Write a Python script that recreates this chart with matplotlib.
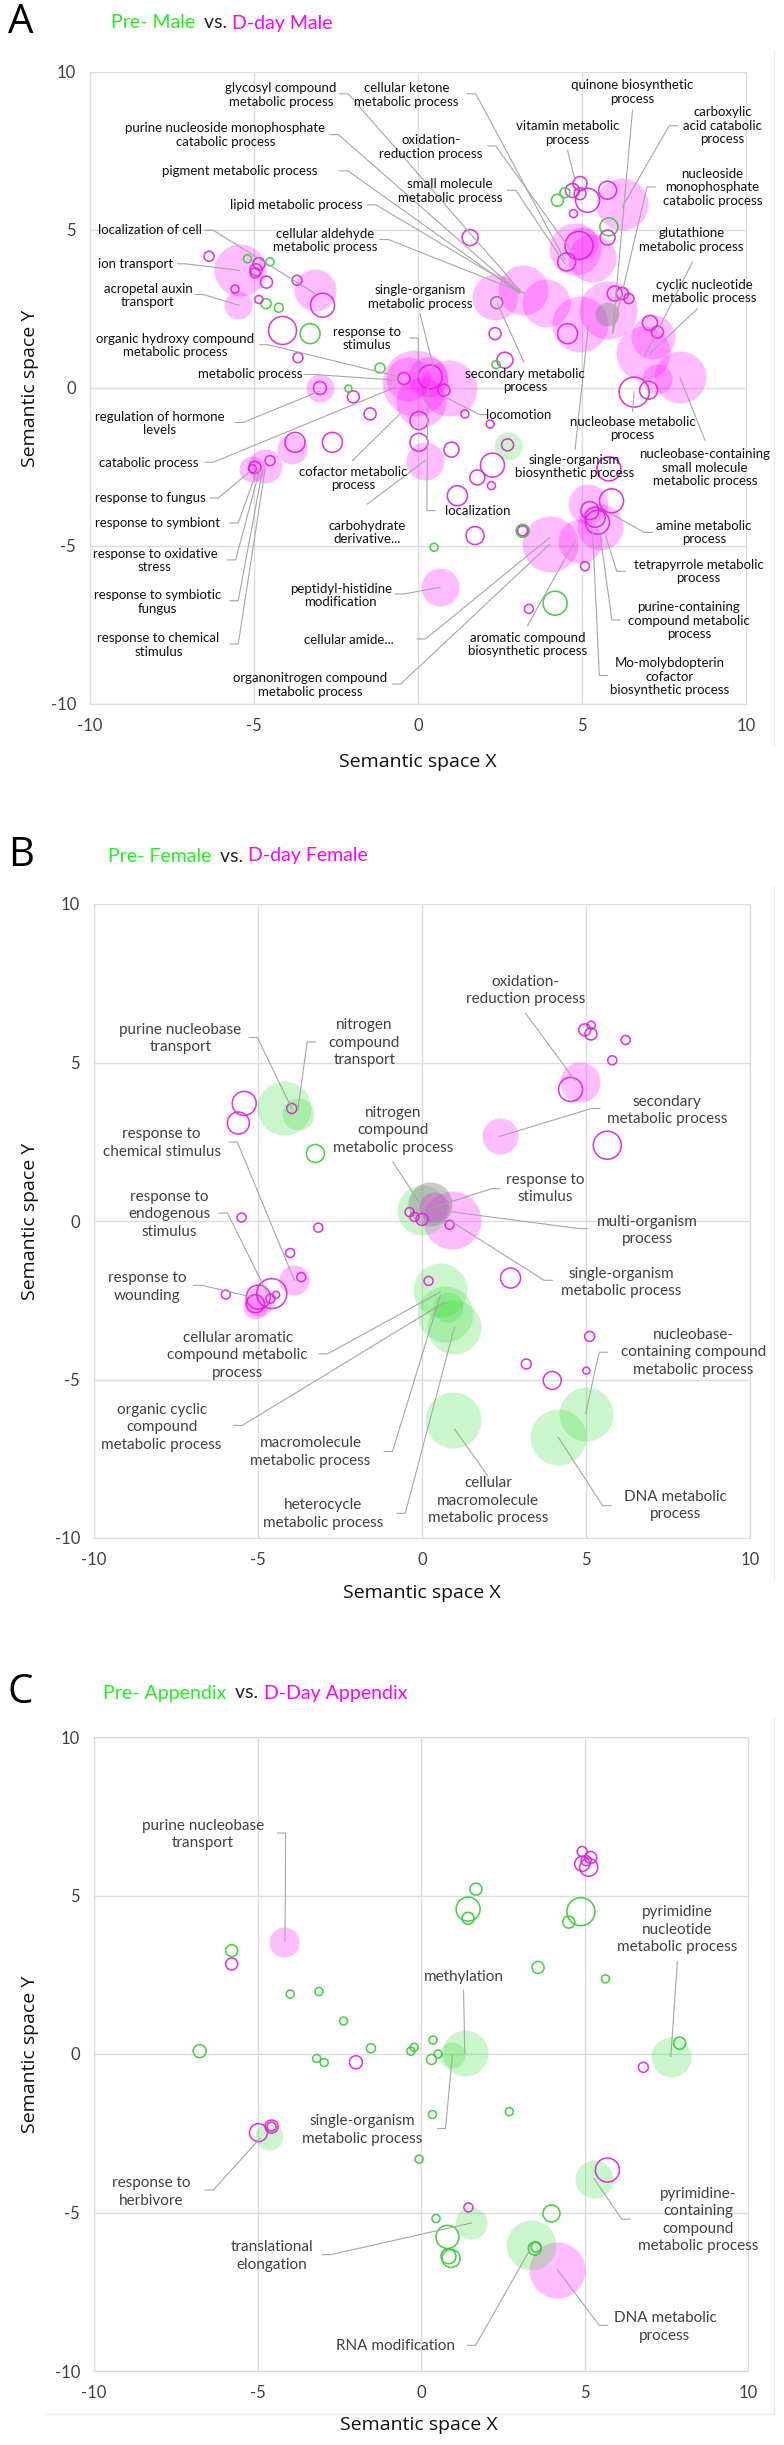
import matplotlib
matplotlib.use('Agg')
import matplotlib.pyplot as plt
from matplotlib.lines import Line2D

W, H, DPI = 784, 2445, 100

# ---------------- DATA ----------------
# bubble kinds: P pink filled, G green filled, X grey filled, p pink ring, g green ring, x grey ring
A_x = [-5.43, -5.5, -3.14, -3.0, -0.1, 0.95, -0.3, 0.3, 0.1, 0.21, 0.67, 2.73,
       4.8, 5.3, 5.0, 6.23, 2.35, 3.2, 3.9, 4.94, 5.78, 5.75, 6.86, 7.16, 7.99, 7.3,
       4.02, 5.17, 5.55, 4.94, -4.66, -5.05, -3.83,
       -6.37, -5.2, -4.51, -4.85, -4.94, -4.97, -4.62, -5.58, -4.85, -4.63, -4.24, -3.69, -2.91,
       1.59, 2.35, 2.65, 2.38, 2.4, -1.16, -3.66, -2.99, -2.12, -1.97, -0.43, 0.37, 0.79,
       4.25, 4.48, 4.71, 4.94, 4.94, 5.17, 5.78, 4.74, 5.82, 5.78, 4.91, 4.53, 6.0, 6.23, 6.43,
       4.56, 7.07, 7.3, 6.59, 7.03, -4.13, -3.29,
       -1.46, 0.03, 0.03, 1.43, 2.2, 1.02, -2.61, -3.75, -4.51, -4.97, -5.05, 2.73, 2.27, 1.81,
       2.24, 1.2, 5.82, 5.9, 5.24, 5.4, 5.47, 3.19, 3.19, 1.74, 0.49, 5.09, 3.38, 4.18]
A_y = [3.72, 2.62, 3.09, 0.0, 0.15, 0.0, 0.3, 0.35, -0.45, -2.3, -6.31, -1.82,
       4.4, 4.1, 4.6, 5.83, 2.88, 3.1, 2.7, 2.04, 2.46, 2.35, 1.1, 1.6, 0.35, 0.3,
       -4.94, -3.67, -4.41, -4.83, -2.46, -2.56, -1.93,
       4.17, 4.09, 3.99, 3.93, 3.74, 3.64, 3.35, 3.13, 2.8, 2.67, 2.54, 3.41, 2.62,
       4.76, 1.72, 0.88, 0.74, 2.7, 0.63, 0.96, 0.0, -0.02, -0.28, 0.3, 0.35, -0.07,
       5.94, 6.18, 6.25, 6.47, 6.15, 5.94, 6.26, 5.52, 5.1, 4.76, 4.51, 3.99, 2.99, 2.99, 2.83,
       1.72, 2.06, 1.77, -0.13, -0.07, 1.82, 1.72,
       -0.82, -1.03, -1.72, -0.82, -1.14, -1.95, -1.72, -1.72, -2.3, -2.51, -2.56, -1.8, -2.44, -2.83,
       -3.09, -3.41, -2.56, -3.57, -3.88, -4.09, -4.25, -4.52, -4.52, -4.67, -5.04, -5.64, -6.99, -6.81]
A_r = [26, 14, 21, 14, 33, 28, 22, 20, 25, 19, 19, 14,
       26, 24, 16, 26, 23, 25, 24, 28, 29, 12, 27, 22, 26, 15,
       28, 20, 23, 22, 17, 13, 15,
       5, 4, 4, 6, 6, 5, 6, 4, 4, 5, 4.5, 5, 12,
       8, 6, 8, 4, 6, 5, 5, 6.5, 3.5, 6, 6, 12, 6,
       6, 5, 7, 7, 6, 12, 9, 4, 9, 7.5, 14, 9, 7.5, 6, 5,
       10, 7.5, 6, 15, 9, 14, 10,
       6, 9, 9, 4, 4, 7.5, 10, 10, 5, 6, 4, 6, 12, 7.5,
       4, 10, 12, 12, 9, 10, 12, 6.5, 5, 9, 4, 4.5, 4.5, 12]
A_kind = (list('PPPPPPPPPPPG') + list('PPPPPPPPPXPPPP') + list('PPPPPPP') +
          list('pggppppppggpp') + list('pppgxgppgpppp') + list('ggppppppgpppppp') +
          list('ppppppg') + list('pppppppppppppp') + list('pppppppgppgppg'))

A_labels = ['glycosyl compound\nmetabolic process', 'cellular ketone\nmetabolic process',
            'quinone biosynthetic\nprocess', 'carboxylic\nacid catabolic\nprocess',
            'purine nucleoside monophosphate\ncatabolic process', 'vitamin metabolic\nprocess',
            'oxidation-\nreduction process', 'pigment metabolic process',
            'small molecule\nmetabolic process', 'nucleoside\nmonophosphate\ncatabolic process',
            'lipid metabolic process', 'localization of cell', 'cellular aldehyde\nmetabolic process',
            'glutathione\nmetabolic process', 'ion transport', 'acropetal auxin\ntransport',
            'single-organism\nmetabolic process', 'cyclic nucleotide\nmetabolic process',
            'organic hydroxy compound\nmetabolic process', 'response to\nstimulus',
            'metabolic process', 'secondary metabolic\nprocess', 'regulation of hormone\nlevels',
            'locomotion', 'nucleobase metabolic\nprocess',
            'nucleobase-containing\nsmall molecule\nmetabolic process', 'catabolic process',
            'cofactor metabolic\nprocess', 'response to fungus', 'localization',
            'single-organism\nbiosynthetic process', 'response to symbiont',
            'carbohydrate\nderivative...', 'amine metabolic\nprocess',
            'response to oxidative\nstress', 'tetrapyrrole metabolic\nprocess',
            'peptidyl-histidine\nmodification', 'response to symbiotic\nfungus',
            'purine-containing\ncompound metabolic\nprocess', 'response to chemical\nstimulus',
            'cellular amide...', 'aromatic compound\nbiosynthetic process',
            'Mo-molybdopterin\ncofactor\nbiosynthetic process',
            'organonitrogen compound\nmetabolic process']
# label centre, leader start, leader end (data units)
A_layout = [(-4.18, 9.27, -2.38, 9.31, 3.11, 3.09), (-0.35, 9.27, 1.51, 9.31, 4.48, 4.04),
            (6.54, 9.36, 6.54, 8.79, 5.93, 1.72), (9.28, 8.3, 7.91, 8.3, 6.23, 5.73),
            (-5.87, 8.0, -2.68, 8.02, 3.11, 2.99), (4.56, 8.07, 4.56, 7.52, 4.79, 6.57),
            (0.4, 7.63, 2.12, 7.66, 4.7, 4.3), (-5.43, 6.87, -2.38, 6.87, 3.11, 2.99),
            (0.98, 6.23, 2.73, 6.26, 4.48, 3.93), (8.98, 6.36, 7.23, 6.36, 5.93, 1.72),
            (-3.7, 5.8, -1.54, 5.8, 3.26, 2.99), (-8.17, 4.99, -6.49, 4.99, -3.14, 2.99),
            (-2.84, 4.67, -1.16, 4.7, 3.26, 2.99), (8.34, 4.69, 8.37, 3.99, 6.92, 1.03),
            (-8.6, 3.91, -7.33, 3.93, -5.43, 3.72), (-8.23, 2.93, -6.8, 2.96, -5.46, 2.62),
            (0.06, 2.88, 0.06, 2.35, 0.52, 0.45), (8.72, 3.06, 8.52, 2.51, 7.07, 1.09),
            (-7.41, 1.35, -4.82, 1.37, -0.55, 0.35), (-1.57, 1.56, -0.24, 1.58, 0.0, 0.35),
            (-5.12, 0.43, -3.45, 0.43, -0.55, 0.24), (3.26, 0.24, 3.23, 0.82, 2.42, 2.67),
            (-7.87, -1.12, -5.58, -1.09, -3.0, -0.1), (3.08, -0.84, 2.12, -0.84, 0.82, -0.28),
            (6.54, -1.28, 6.54, -0.75, 6.59, -0.13), (8.75, -2.53, 8.75, -1.65, 7.99, 0.32),
            (-8.22, -2.38, -6.49, -2.35, -0.7, 0.02), (-1.97, -2.86, -2.0, -2.3, -0.55, -0.82),
            (-8.17, -3.49, -6.34, -3.48, -4.97, -2.51), (1.81, -3.88, 0.52, -3.88, 0.3, 0.0),
            (4.76, -2.49, 4.79, -1.93, 5.2, 2.0), (-7.94, -4.27, -5.73, -4.27, -4.89, -2.56),
            (-1.54, -4.57, -1.54, -3.67, 0.21, -2.3), (8.72, -4.57, 7.15, -4.57, 5.9, -3.99),
            (-8.02, -5.46, -5.81, -5.44, -4.82, -2.56), (8.55, -5.8, 6.31, -5.8, 5.7, -4.62),
            (-2.35, -6.57, -0.7, -6.52, 0.67, -6.31), (-7.94, -6.78, -5.73, -6.73, -4.74, -2.6),
            (8.26, -7.36, 6.16, -7.34, 5.55, -4.62), (-7.91, -8.13, -5.73, -8.1, -4.66, -2.56),
            (-2.1, -7.96, -0.02, -7.94, 4.02, -4.73), (3.34, -8.12, 3.34, -7.52, 4.79, -4.83),
            (7.68, -9.14, 5.78, -9.1, 5.32, -4.51), (-3.29, -9.4, -0.78, -9.37, 4.02, -4.94)]

B_x = [-4.2, -3.79, 0.0, 0.23, 0.92, 0.38, 0.56, 0.69, 0.99, 0.8, 0.95, 4.99, 4.15,
       4.81, 2.37, -3.89, -4.96, -5.1,
       -5.42, -5.6, -3.97, 4.53, 4.96, 5.16, 5.15, 6.21, 5.8, 5.65, -3.25,
       -5.5, -3.16, -4.02, -3.68, -5.98, -4.58, -4.99, -5.08, -4.62, -4.45,
       -0.38, -0.23, 0.0, 0.84, 0.2, 2.7, 5.11, 3.18, 5.01, 3.97]
B_y = [3.55, 3.39, 0.34, 0.55, 0.02, 0.44, -2.19, -2.93, -3.35, -2.7, -6.29, -6.08, -6.8,
       4.39, 2.67, -1.87, -2.51, -2.7,
       3.71, 3.09, 3.55, 4.15, 6.03, 6.18, 5.9, 5.71, 5.07, 2.39, 2.13,
       0.11, -0.21, -1.01, -1.77, -2.32, -2.29, -2.4, -2.61, -2.45, -2.33,
       0.28, 0.13, 0.05, -0.12, -1.89, -1.8, -3.64, -4.51, -4.72, -5.03]
B_r = [27, 16, 25, 22, 29, 15, 27, 28, 27, 15, 28, 27, 28,
       20, 18, 15, 15, 12,
       12, 11, 5, 12, 6, 4, 6, 4.5, 4.5, 14, 9,
       4.5, 4.5, 4.5, 4.5, 4.5, 15, 12, 9, 4.5, 3.5,
       4.5, 4.5, 6, 4.5, 4.5, 10, 5, 5, 3.5, 9]
B_kind = list('GGGXPPGGGGGGG') + list('PPPPP') + list('ppppppppppg') + \
         list('pppppppppp') + list('pppppppppp')

B_labels = ['purine nucleobase\ntransport', 'nitrogen\ncompound\ntransport',
            'oxidation-\nreduction process', 'secondary\nmetabolic process',
            'response to\nchemical stimulus', 'nitrogen\ncompound\nmetabolic process',
            'response to\nstimulus', 'response to\nendogenous\nstimulus',
            'multi-organism\nprocess', 'single-organism\nmetabolic process',
            'response to\nwounding', 'cellular aromatic\ncompound metabolic\nprocess',
            'nucleobase-\ncontaining compound\nmetabolic process',
            'organic cyclic\ncompound\nmetabolic process', 'macromolecule\nmetabolic process',
            'cellular\nmacromolecule\nmetabolic process', 'heterocycle\nmetabolic process',
            'DNA metabolic\nprocess']
B_layout = [(-7.37, 5.76, -5.27, 5.79, -3.97, 3.55), (-1.76, 5.63, -3.25, 5.65, -3.79, 3.49),
            (3.16, 7.28, 3.16, 6.55, 4.66, 4.44), (7.48, 3.49, 5.42, 3.55, 2.37, 2.67),
            (-7.94, 2.46, -5.88, 2.49, -3.89, -1.87), (-0.89, 2.86, -0.89, 1.86, 0.08, 0.34),
            (3.77, 1.02, 2.37, 1.02, 0.38, 0.44), (-7.71, 0.21, -6.18, 0.25, -4.66, -2.4),
            (6.87, -0.29, 5.04, -0.24, 0.53, 0.34), (6.08, -1.94, 3.97, -1.87, 0.92, -0.03),
            (-8.37, -2.08, -6.95, -2.03, -5.19, -2.4), (-5.62, -4.24, -3.13, -4.19, 0.56, -2.24),
            (8.27, -4.14, 5.65, -4.14, 4.99, -6.08), (-7.94, -6.51, -5.73, -6.45, 0.69, -2.56),
            (-3.4, -7.29, -1.15, -7.27, 0.56, -2.35), (2.02, -8.82, 2.0, -8.03, 0.99, -6.56),
            (-3.02, -9.24, -0.76, -9.22, 0.99, -3.35), (7.74, -8.98, 5.76, -8.98, 4.15, -6.82)]

C_x = [-4.19, 4.17, 1.34, 0.96, 7.64, -4.66, 5.29, 1.54, 3.36,
       1.68, 1.44, 1.44, 4.89, 4.52, -5.79, 3.58, 5.64, -4.0, -3.12, -2.37, -6.77, -1.53,
       -0.31, -0.21, 0.37, 0.52, 0.32, -3.19, -2.96, 7.91, 0.35, 2.7, -0.06, 0.46, 0.81,
       0.84, 0.92, 3.99, 3.48, 3.52,
       -5.79, 4.93, 5.19, 4.93, 5.13, 5.05, -1.99, 6.8, -4.97, -4.57, -4.57, 5.7, 1.45]
C_y = [3.53, -6.8, 0.02, -0.03, -0.08, -2.58, -3.93, -5.33, -6.03,
       5.2, 4.57, 4.28, 4.49, 4.16, 3.26, 2.73, 2.37, 1.89, 1.97, 1.04, 0.09, 0.18,
       0.09, 0.21, 0.44, 0.0, -0.17, -0.14, -0.27, 0.34, -1.91, -1.82, -3.32, -5.19, -5.77,
       -6.38, -6.45, -5.03, -6.14, -6.09,
       2.84, 6.39, 6.2, 6.0, 5.89, 6.1, -0.26, -0.42, -2.48, -2.29, -2.29, -3.66, -4.84]
C_r = [15, 28, 23, 13, 20, 14, 19, 16, 25,
       6, 12, 6, 14, 6, 6, 6, 4, 4, 4, 4, 6.5, 4.5,
       4, 4, 4, 4, 5, 4, 4, 6, 4, 4, 4, 4, 11.5,
       7.5, 9, 8.5, 6.5, 5,
       6, 5, 6, 7.5, 9, 5, 6.5, 5, 9, 6.5, 4.5, 12, 4.5]
C_kind = list('PPGGGGGGG') + list('g' * 31) + list('p' * 13)

C_labels = ['purine nucleobase\ntransport', 'pyrimidine\nnucleotide\nmetabolic process',
            'methylation', 'single-organism\nmetabolic process', 'response to\nherbivore',
            'pyrimidine-\ncontaining\ncompound\nmetabolic process', 'translational\nelongation',
            'DNA metabolic\nprocess', 'RNA modification']
C_layout = [(-6.68, 6.92, -4.39, 6.97, -4.16, 3.55), (7.84, 3.92, 7.84, 2.92, 7.64, -0.08),
            (1.3, 2.44, 1.3, 2.02, 1.34, 0.02), (-1.79, -2.4, 0.5, -2.35, 0.96, -0.03),
            (-8.24, -4.35, -6.6, -4.29, -4.92, -2.66), (8.48, -5.24, 6.39, -5.21, 5.29, -3.93),
            (-4.57, -6.37, -3.01, -6.33, 1.54, -5.33), (7.46, -8.61, 5.7, -8.56, 4.17, -6.8),
            (-0.79, -9.22, 1.42, -9.19, 3.41, -6.03)]

TITLES = [('Pre- Male', 'D-day Male'), ('Pre- Female', 'D-day Female'),
          ('Pre- Appendix', 'D-Day Appendix')]
TICKS = [-10, -5, 0, 5, 10]

# ---------------- STYLE ----------------
MAG = '#ff00ff'
STYLE = {
    'P': dict(color=MAG, alpha=0.26, lw=0, fill=True),
    'G': dict(color='#33dd33', alpha=0.25, lw=0, fill=True),
    'X': dict(color='#888888', alpha=0.45, lw=0, fill=True),
    'p': dict(color='#e01ee0', alpha=0.9, lw=1.15, fill=False),
    'g': dict(color='#33cc33', alpha=0.9, lw=1.15, fill=False),
    'x': dict(color='#808080', alpha=0.9, lw=1.15, fill=False),
}

fig = plt.figure(figsize=(W / DPI, H / DPI), dpi=DPI)


def box(l, t, r, b):
    return [l / W, 1 - b / H, (r - l) / W, (b - t) / H]


def draw_panel(rect, xs, ys, rs, kinds, labels, layout, fs, tcol, ls):
    assert len(xs) == len(ys) == len(rs) == len(kinds)
    ax = fig.add_axes(rect)
    ax.set_xlim(-10, 10)
    ax.set_ylim(-10, 10)
    ax.set_xticks(TICKS)
    ax.set_yticks(TICKS)
    ax.set_xticklabels([str(t) for t in TICKS])
    ax.set_yticklabels([str(t) for t in TICKS])
    ax.tick_params(length=0, labelsize=12, labelcolor='#404040', pad=10)
    for lab in ax.get_xticklabels() + ax.get_yticklabels():
        lab.set_family('Lato')
    ax.grid(True, color='#dcdcdc', lw=1)
    ax.set_axisbelow(True)
    for s in ax.spines.values():
        s.set_color('#dcdcdc')
    # filled bubbles first, rings on top
    order = sorted(range(len(xs)), key=lambda i: (kinds[i].islower(), -rs[i]))
    for i in order:
        st = STYLE[kinds[i]]
        size = (2 * rs[i] * 72 / DPI) ** 2
        if st['fill']:
            ax.scatter(xs[i], ys[i], s=size, color=st['color'], alpha=st['alpha'],
                       linewidths=0, zorder=2)
        else:
            ax.scatter(xs[i], ys[i], s=size, facecolors='none', edgecolors=st['color'],
                       alpha=st['alpha'], linewidths=st['lw'], zorder=3)
    for text, (tx, ty, lx, ly, ex, ey) in zip(labels, layout):
        px, py = [lx], [ly]
        if abs(ly - ty) < 0.15:
            px.append(lx + (0.25 if ex > lx else -0.25))
            py.append(ly)
        px.append(ex)
        py.append(ey)
        ax.plot(px, py, color='#a6a6a6', lw=0.8, zorder=4, clip_on=False)
        ax.text(tx, ty, text, ha='center', va='center', fontsize=fs, color=tcol,
                family='Lato', linespacing=ls, zorder=5)
    return ax


def title(letter, ty, tx, pre, post):
    fig.text(8 / W, 1 - ty / H, letter, fontsize=29, family='Open Sans', va='center')
    r = fig.canvas.get_renderer()
    x = tx / W
    for s, c in [(pre, '#22ee22'), (' vs. ', '#222222'), (post, MAG)]:
        t = fig.text(x, 1 - ty / H, s, fontsize=14, family='Lato', color=c, va='center')
        bb = t.get_window_extent(r)
        x = bb.x1 / W + (4 / W if s == pre else 0)


def axis_labels(xc, xy, yc):
    fig.text(xc / W, 1 - xy / H, 'Semantic space X', fontsize=14, family='Open Sans',
             ha='center', va='center', color='#111111')
    fig.text(30 / W, 1 - yc / H, 'Semantic space Y', fontsize=14, family='Open Sans',
             ha='center', va='center', rotation=90, color='#111111')


draw_panel(box(90, 72, 746, 704), A_x, A_y, A_r, A_kind, A_labels, A_layout,
           9.5, '#111111', 1.15)
draw_panel(box(94, 904, 750, 1538), B_x, B_y, B_r, B_kind, B_labels, B_layout,
           11, '#404040', 1.3)
draw_panel(box(94, 1737, 748, 2371), C_x, C_y, C_r, C_kind, C_labels, C_layout,
           11, '#404040', 1.3)

title('A', 23, 111, *TITLES[0])
title('B', 856, 108, *TITLES[1])
title('C', 1693, 103, *TITLES[2])

axis_labels(418, 762, 388)
axis_labels(422, 1593, 1221)
axis_labels(419, 2425, 2054)

# faint chart-area borders on the right
for y0, y1 in [(50, 745), (887, 1580), (1718, 2414)]:
    fig.add_artist(Line2D([774 / W, 774 / W], [1 - y0 / H, 1 - y1 / H],
                          color='#ececec', lw=1))
fig.add_artist(Line2D([45 / W, 774 / W], [1 - 2414 / H, 1 - 2414 / H], color='#ececec', lw=1))

fig.savefig('out.png', dpi=DPI)
